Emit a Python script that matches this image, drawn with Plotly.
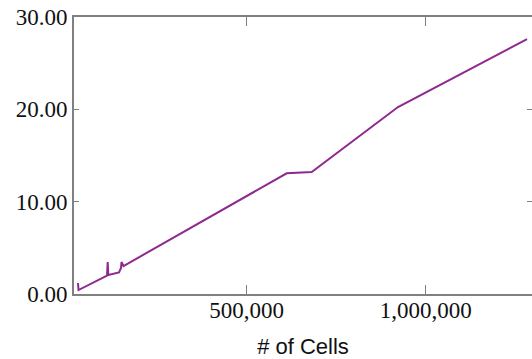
import plotly.graph_objects as go

cells = [28800, 30200, 109800, 111700, 113400, 143300, 148900, 150300, 155900,
         611700, 681500, 922600, 1283000]
time_vals = [1.19, 0.43, 2.00, 3.47, 2.06, 2.33, 2.82, 3.47, 3.03,
             13.07, 13.21, 20.25, 27.6]

x_ticks = [500000, 1000000]
y_ticks = [0, 10, 20, 30]

fig = go.Figure()
fig.add_trace(go.Scatter(x=cells, y=time_vals, mode="lines",
                         line=dict(color="#8e2a8e", width=2), showlegend=False))

axis_common = dict(showgrid=False, zeroline=False, showline=True,
                   linecolor="#808080", linewidth=2, ticks="inside",
                   tickcolor="#808080", mirror="ticks",
                   tickfont=dict(family="Liberation Serif", size=23, color="#111"))

fig.update_xaxes(range=[17600, 1296800], tickvals=x_ticks, tickformat=",d",
                 ticklen=9, tickwidth=1, ticklabelstandoff=-6,
                 title=dict(text="# of Cells", standoff=18,
                            font=dict(family="Liberation Sans", size=22, color="#111")),
                 **axis_common)
fig.update_yaxes(range=[0, 30], tickvals=y_ticks, tickformat=".2f",
                 ticklen=5, tickwidth=1, **axis_common)

fig.update_layout(width=532, height=359, autosize=False,
                  margin=dict(l=74, r=0, t=17, b=65, autoexpand=False),
                  plot_bgcolor="white", paper_bgcolor="white")

post = ("document.body.style.margin='0';document.body.style.padding='0';"
        "document.body.style.overflow='hidden';"
        "document.documentElement.style.overflow='hidden';")
fig.write_html("out.html", post_script=post,
               config={"displayModeBar": False, "responsive": False})
